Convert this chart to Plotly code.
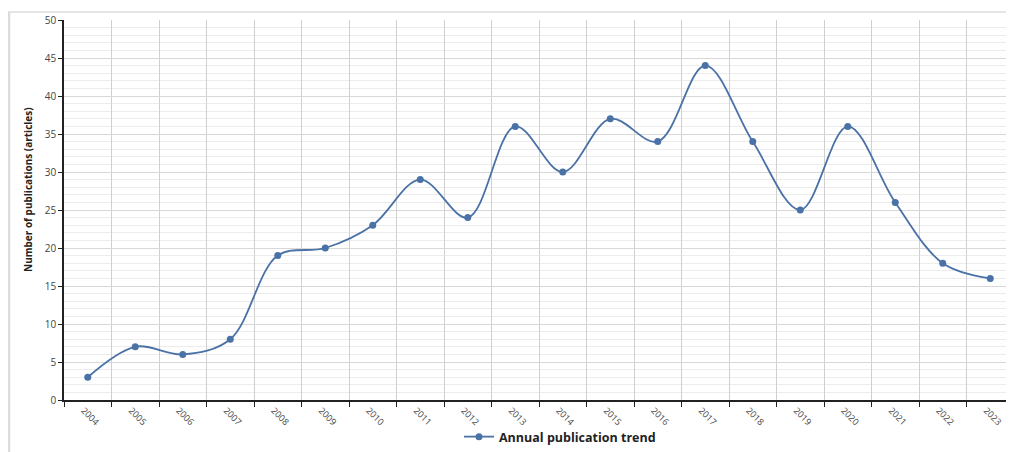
import plotly.graph_objects as go

years = [str(y) for y in range(2004, 2024)]
counts = [3, 7, 6, 8, 19, 20, 23, 29, 24, 36, 30, 37, 34, 44, 34, 25, 36, 26, 18, 16]
series_name = "Annual publication trend"
y_title = "Number of publications (articles)"

color = "#4a72a6"

fig = go.Figure()
fig.add_trace(go.Scatter(
    x=years, y=counts, mode="lines+markers", name=series_name,
    line=dict(color=color, width=1.8, shape="spline", smoothing=1.0),
    marker=dict(color=color, size=7),
))

# The page body has an 8px margin, so the figure sits at (8, 8) in the window.
OFF = 8
W, H = 1014 - OFF, 452 - OFF
L, R, T, B = 64 - OFF, 0, 20 - OFF, 452 - 400
pw, ph = W - L - R, H - T - B

def px(x):  # window x -> paper x
    return (x - OFF - L) / pw

def py(y):  # window y -> paper y
    return (H - B - (y - OFF)) / ph

fig.update_layout(
    width=W, height=H,
    margin=dict(l=L, r=R, t=T, b=B, autoexpand=False),
    paper_bgcolor="white", plot_bgcolor="white",
    font=dict(family="Open Sans, DejaVu Sans, sans-serif", color="#333"),
    showlegend=True,
    legend=dict(orientation="h", x=px(459), xanchor="left", y=py(437), yanchor="middle",
                bgcolor="rgba(0,0,0,0)",
                font=dict(size=12.5, color="#222", family="Open Sans, sans-serif", weight="bold")),
    xaxis=dict(
        type="category", range=[-0.5, 19.5], tickson="boundaries",
        automargin=False,
        showgrid=True, gridcolor="#d0d0d0", gridwidth=1,
        showline=True, linecolor="#222", linewidth=1.5,
        ticks="outside", ticklen=5, tickcolor="#222",
        tickangle=45, tickfont=dict(size=9, color="#444"),
        ticklabelshift=-4, ticklabelstandoff=0,
        zeroline=False,
    ),
    yaxis=dict(
        range=[0, 50], dtick=5,
        automargin=False,
        showgrid=True, gridcolor="#d8d8d8", gridwidth=1.2,
        minor=dict(dtick=1, showgrid=True, gridcolor="#ececec", gridwidth=1),
        showline=True, linecolor="#222", linewidth=1.5,
        ticks="outside", ticklen=4, tickcolor="#222",
        tickfont=dict(size=10, color="#444"),
        zeroline=False,
    ),
    annotations=[
        dict(text=y_title, xref="paper", yref="paper", x=px(28), y=py(190),
             xanchor="center", yanchor="middle", textangle=-90, showarrow=False,
             font=dict(size=10, color="#222", weight="bold")),
    ],
    shapes=[
        dict(type="line", xref="paper", yref="paper", x0=px(8), x1=px(1014), y0=py(12), y1=py(12),
             line=dict(color="#dcdcdc", width=1.5)),
        dict(type="line", xref="paper", yref="paper", x0=px(9), x1=px(9), y0=py(12), y1=py(452),
             line=dict(color="#dcdcdc", width=2.5)),
    ],
)

fig.write_html("out.html")
